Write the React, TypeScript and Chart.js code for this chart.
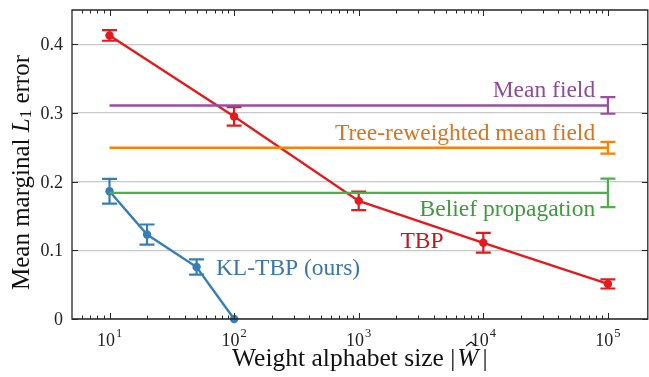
import React, { useEffect, useRef } from 'react';
import { Chart, registerables } from 'chart.js';
Chart.register(...registerables);

const SERIF = '"Liberation Serif", "DejaVu Serif", "Times New Roman", serif';

// ---- data ----
const tbpX = [10, 100, 1000, 10000, 100000];
const tbpY = [0.413, 0.295, 0.172, 0.111, 0.051];
const tbpErr = [0.0078, 0.0135, 0.0134, 0.0143, 0.0066];

const klX = [10, 20, 50, 100];
const klY = [0.186, 0.123, 0.0757, 0.0];
const klErr = [0.018, 0.0146, 0.011, 0];

const baseX = [10, 100000];
const mfY = [0.311, 0.311];
const mfErr = [0, 0.0121];
const trwY = [0.2494, 0.2494];
const trwErr = [0, 0.0085];
const bpY = [0.1837, 0.1837];
const bpErr = [0, 0.0207];

const xTickExps = [1, 2, 3, 4, 5];
const yTicks = [0, 0.1, 0.2, 0.3, 0.4];
const yTickLabels = ['0', '0.1', '0.2', '0.3', '0.4'];

const RED = '#e41a1c';
const BLUE = '#377eb8';
const GREEN = '#4daf4a';
const PURPLE = '#984ea3';
const ORANGE = '#ff7f00';

const annotations = [
  { text: 'Mean field', color: '#8e4a9a', x: 7.9e4, y: 0.323, align: 'right' },
  { text: 'Tree-reweighted mean field', color: '#d9731c', x: 7.9e4, y: 0.2606, align: 'right' },
  { text: 'Belief propagation', color: '#3f9a3c', x: 7.9e4, y: 0.1496, align: 'right' },
  { text: 'TBP', color: '#c4161d', x: 4790, y: 0.1034, align: 'right' },
  { text: 'KL-TBP (ours)', color: '#3a77ad', x: 71.4, y: 0.0635, align: 'left' },
];

const pts = (xs: number[], ys: number[]) => xs.map((x, i) => ({ x, y: ys[i] }));

const errorBarPlugin = {
  id: 'errbars',
  afterDatasetDraw(chart: any, args: any) {
    const ds = chart.data.datasets[args.index];
    const errs = ds.errors as number[] | undefined;
    if (!errs) return;
    const { ctx } = chart;
    const xs = chart.scales.x, ys = chart.scales.y;
    ctx.save();
    ctx.strokeStyle = ds.borderColor;
    ctx.lineWidth = 2.2;
    ds.data.forEach((p: any, i: number) => {
      const e = errs[i];
      if (!e) return;
      const px = xs.getPixelForValue(p.x);
      const y1 = ys.getPixelForValue(p.y - e);
      const y2 = ys.getPixelForValue(p.y + e);
      ctx.beginPath();
      ctx.moveTo(px, y1); ctx.lineTo(px, y2);
      ctx.moveTo(px - 7.5, y1); ctx.lineTo(px + 7.5, y1);
      ctx.moveTo(px - 7.5, y2); ctx.lineTo(px + 7.5, y2);
      ctx.stroke();
    });
    ctx.restore();
  },
};

const framePlugin = {
  id: 'frame',
  afterDraw(chart: any) {
    const { ctx, chartArea: a } = chart;
    const xs = chart.scales.x, ys = chart.scales.y;
    const line = (x1: number, y1: number, x2: number, y2: number) => {
      ctx.beginPath(); ctx.moveTo(x1, y1); ctx.lineTo(x2, y2); ctx.stroke();
    };
    ctx.save();
    ctx.strokeStyle = '#262626';
    ctx.lineWidth = 1.3;
    ctx.beginPath();
    ctx.rect(a.left, a.top, a.right - a.left, a.bottom - a.top);
    ctx.stroke();

    // x ticks (major + minor), inward, bottom and top
    ctx.lineWidth = 1;
    xs.ticks.forEach((t: any) => {
      const v = t.value;
      const ex = Math.floor(Math.log10(v) + 1e-9);
      const sig = v / Math.pow(10, ex);
      if (Math.abs(sig - Math.round(sig)) > 1e-6) return;
      const major = Math.round(sig) === 1;
      const px = Math.round(xs.getPixelForValue(v)) + 0.5;
      if (px < a.left + 1 || px > a.right - 3) return;
      const len = major ? 6 : 3.5;
      line(px, a.bottom, px, a.bottom - len);
      line(px, a.top, px, a.top + len);
    });
    // y ticks inward left/right + labels
    ctx.fillStyle = '#222';
    ctx.font = `18px ${SERIF}`;
    ctx.textAlign = 'right';
    ctx.textBaseline = 'middle';
    yTicks.forEach((v, i) => {
      const py = Math.round(ys.getPixelForValue(v)) + 0.5;
      line(a.left, py, a.left + 6, py);
      line(a.right, py, a.right - 6, py);
      ctx.fillText(yTickLabels[i], a.left - 9, py + 1);
    });

    // x tick labels 10^n
    ctx.textBaseline = 'alphabetic';
    ctx.textAlign = 'left';
    xTickExps.forEach((e) => {
      const px = xs.getPixelForValue(Math.pow(10, e));
      ctx.font = `18px ${SERIF}`;
      const w1 = ctx.measureText('10').width;
      ctx.font = `12.5px ${SERIF}`;
      const w2 = ctx.measureText(String(e)).width;
      const x0 = px - (w1 + w2 + 1) / 2;
      ctx.font = `18px ${SERIF}`;
      ctx.fillText('10', x0, a.bottom + 27);
      ctx.font = `12.5px ${SERIF}`;
      ctx.fillText(String(e), x0 + w1 + 1, a.bottom + 18);
    });

    // annotations
    ctx.font = `23.5px ${SERIF}`;
    annotations.forEach((an) => {
      ctx.fillStyle = an.color;
      ctx.textAlign = an.align as CanvasTextAlign;
      ctx.fillText(an.text, xs.getPixelForValue(an.x), ys.getPixelForValue(an.y));
    });

    // x axis title
    ctx.fillStyle = '#111';
    ctx.textAlign = 'left';
    const f = 25.5;
    const p1 = 'Weight alphabet size |';
    ctx.font = `${f}px ${SERIF}`;
    const w1 = ctx.measureText(p1).width;
    ctx.font = `italic ${f}px ${SERIF}`;
    const wW = ctx.measureText('W').width + 4;
    ctx.font = `${f}px ${SERIF}`;
    const wBar = ctx.measureText('|').width;
    const total = w1 + wW + wBar + 2;
    const cx = (a.left + a.right) / 2;
    const bx = cx - total / 2;
    const by = a.bottom + 47;
    ctx.fillText(p1, bx, by);
    ctx.font = `italic ${f}px ${SERIF}`;
    ctx.fillText('W', bx + w1 + 2, by);
    ctx.font = `${f}px ${SERIF}`;
    ctx.fillText('|', bx + w1 + wW + 2, by);
    // hat
    const hx = bx + w1 + 2 + wW / 2 + 1;
    ctx.strokeStyle = '#111';
    ctx.lineWidth = 1.1;
    ctx.beginPath();
    ctx.moveTo(hx - 5, by - 20);
    ctx.lineTo(hx, by - 24);
    ctx.lineTo(hx + 5, by - 20);
    ctx.stroke();

    // y axis title rotated
    ctx.save();
    ctx.translate(22, (a.top + a.bottom) / 2 + 8);
    ctx.rotate(-Math.PI / 2);
    const fy = 25;
    const parts: [string, string, number][] = [
      ['Mean marginal ', `${fy}px ${SERIF}`, 0],
      ['L', `italic ${fy}px ${SERIF}`, 0],
      ['1', `17px ${SERIF}`, 5],
      [' error', `${fy}px ${SERIF}`, 0],
    ];
    let tw = 0;
    const ws = parts.map(([t, font]) => { ctx.font = font; const w = ctx.measureText(t).width; tw += w; return w; });
    let xx = -tw / 2;
    ctx.textBaseline = 'middle';
    parts.forEach(([t, font, dy], i) => {
      ctx.font = font;
      ctx.fillText(t, xx, dy);
      xx += ws[i];
    });
    ctx.restore();

    ctx.restore();
  },
};

export default function App() {
  const ref = useRef<HTMLCanvasElement>(null);
  useEffect(() => {
    document.body.style.margin = '0';
    const chart = new Chart(ref.current!, {
      type: 'scatter',
      data: {
        datasets: [
          { data: pts(baseX, mfY), borderColor: PURPLE, backgroundColor: PURPLE, borderWidth: 2.4, pointRadius: 0, showLine: true, errors: mfErr } as any,
          { data: pts(baseX, trwY), borderColor: ORANGE, backgroundColor: ORANGE, borderWidth: 2.4, pointRadius: 0, showLine: true, errors: trwErr } as any,
          { data: pts(baseX, bpY), borderColor: GREEN, backgroundColor: GREEN, borderWidth: 2.4, pointRadius: 0, showLine: true, errors: bpErr } as any,
          { data: pts(tbpX, tbpY), borderColor: RED, backgroundColor: RED, borderWidth: 2.4, pointRadius: 4.2, pointBorderWidth: 0, showLine: true, errors: tbpErr, clip: false } as any,
          { data: pts(klX, klY), borderColor: BLUE, backgroundColor: BLUE, borderWidth: 2.4, pointRadius: 4.2, pointBorderWidth: 0, showLine: true, errors: klErr, clip: false } as any,
        ],
      },
      options: {
        responsive: false,
        animation: false,
        devicePixelRatio: 1,
        layout: { padding: { top: 10, right: 2, left: 0, bottom: 0 } },
        plugins: { legend: { display: false }, tooltip: { enabled: false } },
        scales: {
          x: {
            type: 'logarithmic',
            min: 5,
            max: 2.09e5,
            grid: { display: false },
            border: { display: false },
            ticks: { display: false },
            afterFit: (s: any) => { s.height = 58; },
          },
          y: {
            type: 'linear',
            min: 0,
            max: 0.45,
            grid: { color: '#c8c8c8', lineWidth: 1.2, drawTicks: false },
            border: { display: false },
            ticks: { display: false },
            afterBuildTicks: (s: any) => { s.ticks = yTicks.map((v) => ({ value: v })); },
            afterFit: (s: any) => { s.width = 72; },
          },
        },
      } as any,
      plugins: [errorBarPlugin, framePlugin],
    });
    return () => chart.destroy();
  }, []);
  return (
    <div style={{ width: 649, height: 377, overflow: 'hidden', position: 'relative', background: '#fff' }}>
      <canvas ref={ref} width={652} height={377} style={{ display: 'block', width: 652, height: 377 }} />
    </div>
  );
}
